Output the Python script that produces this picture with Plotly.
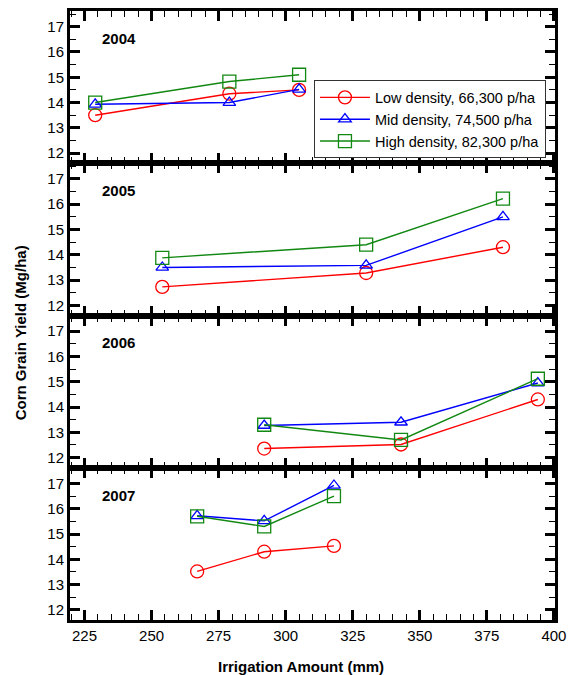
import plotly.graph_objects as go
from plotly.subplots import make_subplots

years = ["2004", "2005", "2006", "2007"]
series_names = ["Low density, 66,300 p/ha", "Mid density, 74,500 p/ha", "High density, 82,300 p/ha"]

irrigation = {
    "2004": [229, 279, 305],
    "2005": [254, 330, 381],
    "2006": [292, 343, 394],
    "2007": [267, 292, 318],
}
low_yield = {
    "2004": [13.5, 14.35, 14.5],
    "2005": [12.73, 13.28, 14.3],
    "2006": [12.36, 12.52, 14.3],
    "2007": [13.52, 14.3, 14.53],
}
mid_yield = {
    "2004": [13.93, 14.0, 14.52],
    "2005": [13.5, 13.58, 15.5],
    "2006": [13.27, 13.4, 14.95],
    "2007": [15.72, 15.52, 16.92],
}
high_yield = {
    "2004": [14.0, 14.83, 15.1],
    "2005": [13.88, 14.4, 16.22],
    "2006": [13.3, 12.7, 15.12],
    "2007": [15.7, 15.3, 16.5],
}

colors = ["#ff0000", "#0000ff", "#118811"]
symbols = ["circle-open", "triangle-up-open", "square-open"]
sizes = [13, 11, 13]
FONT = "Liberation Sans, Arial, Helvetica, sans-serif"

fig = make_subplots(rows=4, cols=1, shared_xaxes=True, vertical_spacing=0)

for i, yr in enumerate(years):
    for j, data in enumerate([low_yield, mid_yield, high_yield]):
        fig.add_trace(
            go.Scatter(
                x=irrigation[yr], y=data[yr], mode="lines+markers",
                name=series_names[j],
                showlegend=(i == 0),
                line=dict(color=colors[j], width=1.4),
                marker=dict(symbol=symbols[j], size=sizes[j], color=colors[j],
                            line=dict(width=1.3, color=colors[j])),
            ),
            row=i + 1, col=1,
        )
    fig.add_annotation(
        text="<b>%s</b>" % yr, xref="x%s domain" % ("" if i == 0 else i + 1),
        yref="y%s domain" % ("" if i == 0 else i + 1),
        x=0.061, y=0.82, xanchor="left", yanchor="middle", showarrow=False,
        font=dict(family=FONT, size=15, color="black"),
    )

for i in range(4):
    fig.update_xaxes(
        row=i + 1, col=1, range=[219.6, 400.4], tick0=225, dtick=25,
        showline=True, linewidth=3, linecolor="black", mirror="allticks",
        ticks="inside", ticklen=10, tickwidth=3, tickcolor="black",
        minor=dict(ticks="inside", dtick=5, ticklen=6, tickwidth=1, tickcolor="black"),
        showgrid=False, zeroline=False,
        tickfont=dict(family=FONT, size=15, color="black"),
    )
    fig.update_yaxes(
        row=i + 1, col=1, range=[11.6, 17.62], tick0=12, dtick=1,
        showline=True, linewidth=3, linecolor="black", mirror="allticks",
        ticks="inside", ticklen=10, tickwidth=3, tickcolor="black",
        minor=dict(ticks="inside", dtick=0.5, ticklen=6, tickwidth=1, tickcolor="black"),
        showgrid=False, zeroline=False,
        tickfont=dict(family=FONT, size=15, color="black"),
    )

fig.add_annotation(
    text="<b>Irrigation Amount (mm)</b>", xref="paper", yref="paper",
    x=0.4755, y=-0.0768, xanchor="center", yanchor="middle", showarrow=False,
    font=dict(family=FONT, size=15, color="black"),
)
fig.add_annotation(
    text="<b>Corn Grain Yield (Mg/ha)</b>", xref="paper", yref="paper",
    x=-0.1002, y=0.4714, xanchor="center", yanchor="middle", showarrow=False,
    textangle=-90, font=dict(family=FONT, size=15, color="black"),
)

fig.update_layout(
    width=574, height=675,
    margin=dict(l=70, r=15, t=8, b=55),
    paper_bgcolor="white", plot_bgcolor="white",
    font=dict(family=FONT, size=15, color="black"),
    legend=dict(
        x=0.503, y=0.822, xanchor="left", yanchor="middle",
        bgcolor="white", bordercolor="#333333", borderwidth=1,
        font=dict(family=FONT, size=14.5, color="black"),
        tracegroupgap=0, itemwidth=50,
    ),
    showlegend=True,
)

fig.write_html("out.html")
